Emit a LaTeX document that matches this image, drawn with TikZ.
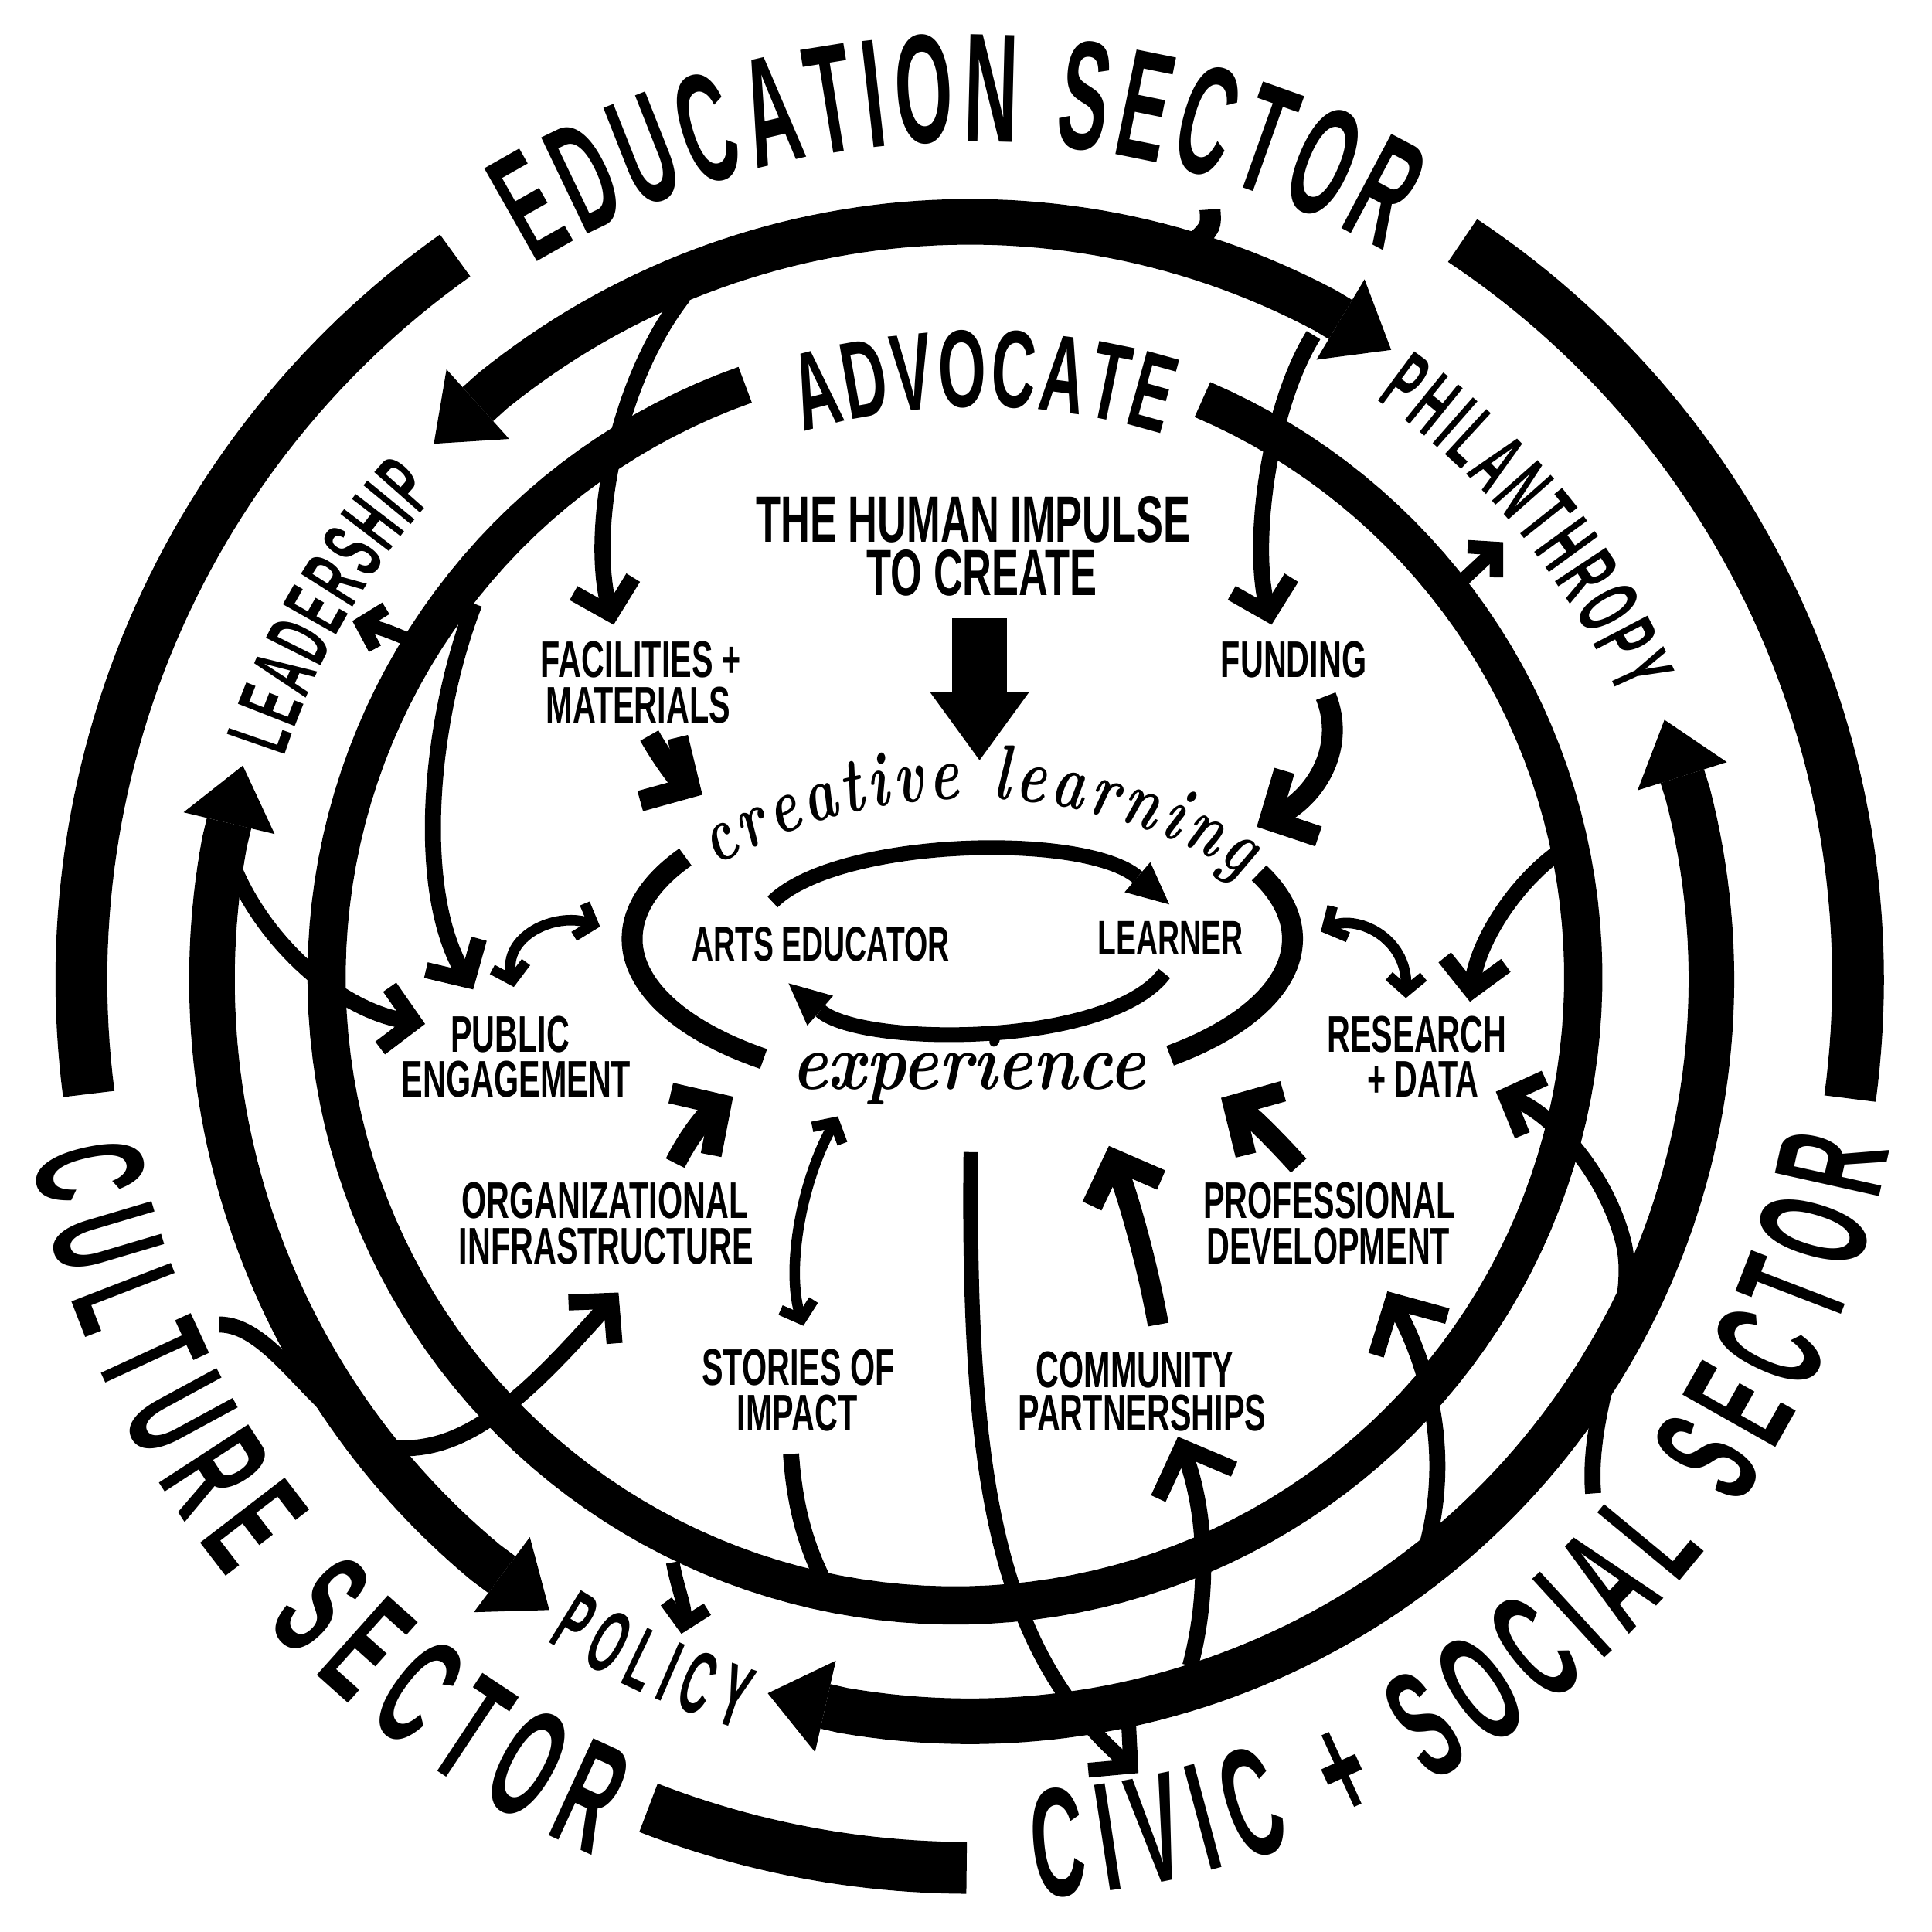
\documentclass[tikz,border=0pt]{standalone}
\usepackage{fontspec}
\usetikzlibrary{arrows.meta,decorations.text}
\newfontfamily\labfont[FakeStretch=0.62]{Liberation Sans}
\newfontfamily\bigfont[FakeStretch=0.48]{Liberation Sans}
\newfontfamily\advfont[FakeStretch=0.56]{Liberation Sans}
\newfontfamily\scriptfam[FakeStretch=0.85]{lmroman10-bolditalic.otf}
\newfontfamily\scriptnarrow[FakeStretch=0.72]{lmroman10-bolditalic.otf}
\newcommand\fmtsector{\bigfont\bfseries\fontsize{35.8pt}{40pt}\selectfont}
\newcommand\fmtrole{\bigfont\bfseries\fontsize{20.5pt}{24pt}\selectfont}
\newcommand\fmtadv{\advfont\bfseries\fontsize{25.4pt}{28pt}\selectfont}
\newcommand\fmtscript{\scriptfam\fontsize{18.5pt}{22pt}\selectfont}
\newcommand\fmtscriptarc{\scriptnarrow\fontsize{18pt}{22pt}\selectfont}
\tikzset{
  sectorring/.style={line width=4.2mm},
  rolering/.style={line width=3.7mm,{Triangle[length=4.8mm,width=7.6mm,line width=0pt]}-{Triangle[length=4.8mm,width=7.6mm,line width=0pt]}},
  advring/.style={line width=3.1mm},
  loopring/.style={line width=1.7mm},
  thinarrow/.style={line width=1.3mm,-{Straight Barb[length=2.4mm,width=5mm]}},
  thinbig/.style={line width=1.3mm,-{Straight Barb[length=3.2mm,width=6.6mm]}},
  thickarrow/.style={line width=1.7mm,-{Straight Barb[length=2.9mm,width=6mm]}},
  tickarrow/.style={line width=1.1mm,-{Straight Barb[length=1.6mm,width=3.4mm]}},
  smallboth/.style={line width=0.85mm,{Straight Barb[length=1.2mm,width=2.8mm]}-{Straight Barb[length=1.2mm,width=2.8mm]}},
  plainline/.style={line width=1.3mm},
  innerarrow/.style={line width=1.2mm,-{Triangle[length=3.4mm,width=3.2mm,line width=0pt]}},
  blockarrow/.style={line width=4.5mm,-{Triangle[length=5.5mm,width=8mm,line width=0pt]}},
  lab/.style={font=\labfont\bfseries\fontsize{11.9pt}{14pt}\selectfont,inner sep=0pt,anchor=base},
  smalllab/.style={font=\labfont\bfseries\fontsize{11.2pt}{14pt}\selectfont,inner sep=0pt,anchor=base},
  biglab/.style={font=\labfont\bfseries\fontsize{15.1pt}{18pt}\selectfont,inner sep=0pt,anchor=base},
  curved/.style={decorate,decoration={text along path,text align=fit to path,text={#1}}},
}
\begin{document}
\begin{tikzpicture}[x=0.1mm,y=-0.1mm]
\useasboundingbox (0,0) rectangle (1568,1568);
\fill[white] (0,0) rectangle (1568,1568);

% ---------------- sector ring
\draw[sectorring] plot[domain=172.6:234.6,samples=60,variable=\t] ({787+721*cos(\t)},{795+721*sin(\t)});
\draw[sectorring] plot[domain=303.7:367.7,samples=60,variable=\t] ({787+721*cos(\t)},{795+721*sin(\t)});
\draw[sectorring] plot[domain=90.2:111.2,samples=25,variable=\t] ({787+721*cos(\t)},{795+721*sin(\t)});

% ---------------- role ring (double arrows)
\draw[rolering] ({787+615*cos(225)},{795+615*sin(225)}) -- plot[domain=231:298,samples=60,variable=\t] ({787+615*cos(\t)},{795+615*sin(\t)}) -- ({787+615*cos(303.8)},{795+615*sin(303.8)});
\draw[rolering] ({787+615*cos(196.4)},{795+615*sin(196.4)}) -- plot[domain=190.4:129.7,samples=60,variable=\t] ({787+615*cos(\t)},{795+615*sin(\t)}) -- ({787+615*cos(123.7)},{795+615*sin(123.7)});
\draw[rolering] ({787+602*cos(-20.5)},{795+602*sin(-20.5)}) -- plot[domain=-14.5:99.8,samples=100,variable=\t] ({787+602*cos(\t)},{795+602*sin(\t)}) -- ({787+602*cos(105.8)},{795+602*sin(105.8)});

% ---------------- advocate ring
\draw[advring] plot[domain=-66.8:250.5,samples=160,variable=\t] ({775+510*cos(\t)},{793+510*sin(\t)});

% ---------------- creative learning loop
\draw[loopring] plot[domain=127:213,samples=50,variable=\t] ({781+268*cos(\t)},{762+122*sin(\t)});
\draw[loopring] plot[domain=-26:51,samples=50,variable=\t] ({781+268*cos(\t)},{762+122*sin(\t)});

% ---------------- curved texts
\path[curved={|\fmtsector|EDUCATION SECTOR}] plot[domain=238.6:299.7,samples=90,variable=\t] ({787+680*cos(\t)},{795+680*sin(\t)});
\path[curved={|\fmtsector|CULTURE SECTOR}] plot[domain=0:1,samples=90,variable=\t] ({787+774*cos(169.3-56.1*\t)},{795+774*sin(169.3-56.1*\t)});
\path[curved={|\fmtsector|CIVIC + SOCIAL SECTOR}] plot[domain=0:1,samples=110,variable=\t] ({795+752*cos(86.5-75.6*\t)},{790+752*sin(86.5-75.6*\t)});
\path[curved={|\fmtadv|ADVOCATE}] plot[domain=253.4:287.3,samples=60,variable=\t] ({795+500*cos(\t)},{830+500*sin(\t)});
\path[curved={|\fmtrole|LEADERSHIP}] plot[domain=198:222.4,samples=60,variable=\t] ({787+585*cos(\t)},{795+585*sin(\t)});
\path[curved={|\fmtrole|PHILANTHROPY}] plot[domain=305:336.5,samples=60,variable=\t] ({787+575*cos(\t)},{795+575*sin(\t)});
\path[curved={|\fmtrole|POLICY}] plot[domain=0:1,samples=50,variable=\t] ({787+637*cos(122.6-15.5*\t)},{795+637*sin(122.6-15.5*\t)});
\path[curved={|\fmtscriptarc|creative learning}] plot[domain=240.1:302.1,samples=80,variable=\t] ({788+415*cos(\t)},{1063+415*sin(\t)});

% ---------------- labels
\node[biglab] (imp1) at (790,440) {THE HUMAN IMPULSE};
\node[biglab] (imp2) at (797,483) {TO CREATE};
\node[lab] (fac1) at (520,550) {FACILITIES +};
\node[lab] (fac2) at (518,587) {MATERIALS};
\node[lab] (fund) at (1050,550) {FUNDING};
\node[lab] (pub1) at (414,854) {PUBLIC};
\node[lab] (pub2) at (419,890) {ENGAGEMENT};
\node[lab] (res1) at (1150,854) {RESEARCH};
\node[lab] (res2) at (1155,890) {+ DATA};
\node[lab] (org1) at (491,989) {ORGANIZATIONAL};
\node[lab] (org2) at (492,1026) {INFRASTRUCTURE};
\node[lab] (sto1) at (648,1124) {STORIES OF};
\node[lab] (sto2) at (647,1161) {IMPACT};
\node[lab] (pro1) at (1079,989) {PROFESSIONAL};
\node[lab] (pro2) at (1078,1026) {DEVELOPMENT};
\node[lab] (com1) at (921,1126) {COMMUNITY};
\node[lab] (com2) at (927,1161) {PARTNERSHIPS};
\node[smalllab] (arts) at (666,780) {ARTS EDUCATOR};
\node[smalllab] (learner) at (950,775) {LEARNER};
\node[font=\fmtscript,inner sep=0pt,anchor=base] (exp) at (786,884) {experience};

% ---------------- connector end points
\coordinate (edT) at (982,170);   \coordinate (edB) at (969,198);
\coordinate (facS) at (555,240);  \coordinate (facE) at (498,507);
\coordinate (funS) at (1066,272); \coordinate (funE) at (1032,507);
\coordinate (pubS) at (385,490);  \coordinate (pubE) at (384,803);
\coordinate (ldpS) at (190,705);  \coordinate (ldpE) at (345,831);
\coordinate (resS) at (1272,687); \coordinate (resE) at (1193,813);
\coordinate (ltS) at (329,518);   \coordinate (ltE) at (286,504);
\coordinate (ptS) at (1188,470);  \coordinate (ptE) at (1220,440);
\coordinate (potS) at (546,1268); \coordinate (potE) at (553,1326);
\coordinate (cuS) at (178,1075);  \coordinate (cuE) at (502,1049);
\coordinate (ciS) at (1293,1212); \coordinate (ciE) at (1214,886);
\coordinate (pdS) at (1158,1255); \coordinate (pdE) at (1126,1048);
\coordinate (cpS) at (966,1352);  \coordinate (cpE) at (956,1166);
\coordinate (lgS) at (788,935);   \coordinate (lgE) at (924,1439);
\coordinate (stS) at (642,1180);  \coordinate (stE) at (667,1280);
\coordinate (esS) at (680,906);   \coordinate (esE) at (652,1076);
\coordinate (oeS) at (548,944);   \coordinate (oeE) at (595,890);
\coordinate (ceS) at (940,1075);  \coordinate (ceE) at (900,930);
\coordinate (deS) at (1054,946);  \coordinate (deE) at (991,891);
\coordinate (fcS) at (527,597);   \coordinate (fcE) at (570,645);
\coordinate (ucS) at (1076,565);  \coordinate (ucE) at (1020,671);
\coordinate (peA) at (417,801);   \coordinate (peB) at (487,752);
\coordinate (rdA) at (1072,756);  \coordinate (rdB) at (1141,810);
\coordinate (imS) at (795,502);   \coordinate (imE) at (795,617);
\coordinate (itS) at (627,732);   \coordinate (itE) at (949,734);
\coordinate (ibS) at (945,790);   \coordinate (ibE) at (640,798);

% ---------------- connectors
\draw[line width=1.7mm] (edT) .. controls (983,184) .. (edB);
\draw[thinarrow] (facS) .. controls (500,310) and (478,430) .. (facE);
\draw[thinarrow] (funS) .. controls (1030,330) and (1015,440) .. (funE);
\draw[thinarrow] (pubS) .. controls (350,580) and (335,720) .. (pubE);
\draw[thinarrow] (ldpS) .. controls (215,765) and (275,820) .. (ldpE);
\draw[thinarrow] (resS) .. controls (1235,710) and (1200,760) .. (resE);
\draw[tickarrow] (ltS) .. controls (312,511) .. (ltE);
\draw[tickarrow] (ptS) -- (ptE);
\draw[tickarrow] (potS) .. controls (550,1290) and (557,1305) .. (potE);
\draw[thinarrow] (cuS) .. controls (225,1075) and (260,1160) .. (320,1175) .. controls (380,1180) and (430,1130) .. (cuE);
\draw[thinarrow] (ciS) .. controls (1287,1140) and (1330,1065) .. (1318,1010) .. controls (1305,955) and (1262,905) .. (ciE);
\draw[thinbig] (pdS) .. controls (1178,1180) and (1160,1110) .. (pdE);
\draw[thinbig] (cpS) .. controls (985,1280) and (975,1215) .. (cpE);
\draw[thinarrow,line width=1.2mm] (lgS) .. controls (785,1200) and (810,1340) .. (lgE);
\draw[plainline] (stS) .. controls (645,1225) and (655,1255) .. (stE);
\draw[smallboth] (esS) .. controls (650,960) and (638,1030) .. (esE);
\draw[thickarrow] (oeS) .. controls (560,920) and (575,903) .. (oeE);
\draw[thickarrow] (ceS) .. controls (930,1020) and (915,970) .. (ceE);
\draw[thickarrow] (deS) .. controls (1035,925) and (1015,905) .. (deE);
\draw[thickarrow] (fcS) .. controls (540,620) and (553,635) .. (fcE);
\draw[thickarrow] (ucS) .. controls (1092,605) and (1070,645) .. (ucE);
\draw[smallboth] (peA) .. controls (408,760) and (450,740) .. (peB);
\draw[smallboth] (rdA) .. controls (1100,742) and (1142,760) .. (rdB);
\draw[blockarrow] (imS) -- (imE);
\draw[innerarrow] (itS) .. controls (680,680) and (880,675) .. (itE);
\draw[innerarrow] (ibS) .. controls (900,850) and (700,850) .. (ibE);
\end{tikzpicture}
\end{document}
